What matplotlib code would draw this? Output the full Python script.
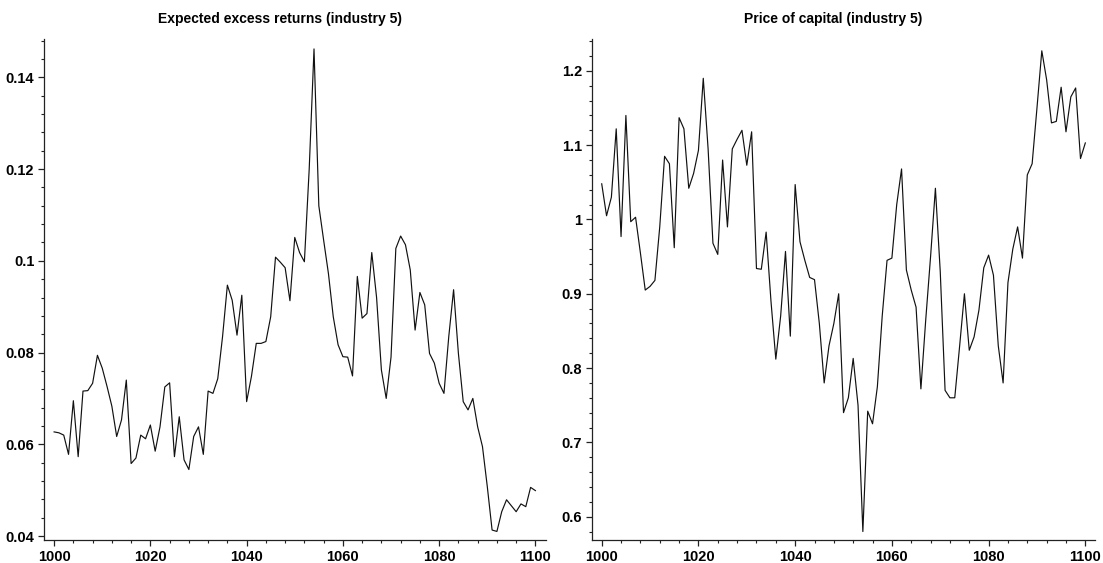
import matplotlib
matplotlib.use("Agg")
import matplotlib.pyplot as plt
from matplotlib.ticker import MultipleLocator, FuncFormatter

plt.rcParams['font.family'] = ['Liberation Sans', 'DejaVu Sans']

periods = list(range(1000, 1101))

excess_returns = [
    0.0627, 0.0625, 0.0620, 0.0578, 0.0695, 0.0573, 0.0716, 0.0717, 0.0733, 0.0794,
    0.0766, 0.0726, 0.0683, 0.0617, 0.0653, 0.0740, 0.0558, 0.0570, 0.0620, 0.0612,
    0.0642, 0.0585, 0.0638, 0.0725, 0.0734, 0.0573, 0.0660, 0.0566, 0.0545, 0.0617,
    0.0638, 0.0578, 0.0716, 0.0711, 0.0743, 0.0835, 0.0947, 0.0914, 0.0838, 0.0925,
    0.0693, 0.0748, 0.0820, 0.0820, 0.0824, 0.0878, 0.1008, 0.0997, 0.0985, 0.0913,
    0.1051, 0.1018, 0.0998, 0.1200, 0.1462, 0.1120, 0.1045, 0.0972, 0.0878, 0.0817,
    0.0791, 0.0790, 0.0749, 0.0966, 0.0875, 0.0885, 0.1018, 0.0920, 0.0762, 0.0700,
    0.0790, 0.1027, 0.1054, 0.1035, 0.0980, 0.0849, 0.0931, 0.0904, 0.0798, 0.0777,
    0.0733, 0.0711, 0.0835, 0.0937, 0.0798, 0.0693, 0.0675, 0.0700, 0.0638, 0.0595,
    0.0508, 0.0413, 0.0410, 0.0453, 0.0479, 0.0466, 0.0453, 0.0470, 0.0464, 0.0506,
    0.0499,
]

price_of_capital = [
    1.048, 1.005, 1.030, 1.122, 0.977, 1.140, 0.997, 1.003, 0.955, 0.905,
    0.910, 0.918, 0.990, 1.085, 1.075, 0.962, 1.137, 1.122, 1.042, 1.062,
    1.093, 1.190, 1.095, 0.968, 0.953, 1.080, 0.990, 1.095, 1.108, 1.120,
    1.073, 1.118, 0.934, 0.933, 0.983, 0.890, 0.812, 0.870, 0.957, 0.843,
    1.047, 0.970, 0.945, 0.922, 0.919, 0.860, 0.780, 0.830, 0.860, 0.900,
    0.740, 0.760, 0.813, 0.750, 0.580, 0.742, 0.725, 0.775, 0.870, 0.945,
    0.948, 1.020, 1.068, 0.932, 0.905, 0.882, 0.772, 0.865, 0.950, 1.042,
    0.930, 0.770, 0.760, 0.760, 0.829, 0.900, 0.824, 0.842, 0.878, 0.935,
    0.952, 0.925, 0.830, 0.780, 0.915, 0.960, 0.990, 0.948, 1.060, 1.075,
    1.150, 1.227, 1.188, 1.130, 1.132, 1.178, 1.118, 1.165, 1.177, 1.082,
    1.103,
]

titles = ["Expected excess returns (industry 5)", "Price of capital (industry 5)"]

W, H = 1103, 563
fig = plt.figure(figsize=(W / 100, H / 100), dpi=100)

def px_axes(x0, y0, x1, y1):
    return fig.add_axes([x0 / W, 1 - y1 / H, (x1 - x0) / W, (y1 - y0) / H])

ax1 = px_axes(44, 39.3, 546, 540)
ax2 = px_axes(591.7, 39.3, 1095, 540)

fmt = FuncFormatter(lambda v, p: f"{v:g}")

configs = [
    (ax1, excess_returns, (997.9, 1102.2), (0.03913, 0.1483), 0.02, 0.004, 0.471),
    (ax2, price_of_capital, (997.93, 1102.0), (0.5686, 1.2425), 0.1, 0.02, 0.479),
]

for (ax, data, xl, yl, ymaj, ymin, tx), title in zip(configs, titles):
    ax.plot(periods, data, color='#111111', lw=0.85)
    ax.set_xlim(*xl)
    ax.set_ylim(*yl)
    for s in ['top', 'right']:
        ax.spines[s].set_visible(False)
    for s in ['left', 'bottom']:
        ax.spines[s].set_linewidth(0.9)
        ax.spines[s].set_color('#222222')
    ax.xaxis.set_major_locator(MultipleLocator(20))
    ax.xaxis.set_minor_locator(MultipleLocator(4))
    ax.yaxis.set_major_locator(MultipleLocator(ymaj))
    ax.yaxis.set_minor_locator(MultipleLocator(ymin))
    ax.yaxis.set_major_formatter(fmt)
    ax.xaxis.set_major_formatter(FuncFormatter(lambda v, p: f"{v:.0f}"))
    ax.tick_params(which='major', length=4, width=0.9, direction='out', pad=3,
                   labelsize=10.5, color='#222222')
    ax.tick_params(which='minor', length=2.5, width=0.8, direction='out', color='#222222')
    for lab in ax.get_xticklabels() + ax.get_yticklabels():
        lab.set_fontweight('bold')
    ax.set_title(title, x=tx, pad=12, fontsize=10, fontweight='bold')

fig.savefig("out.png", dpi=100)
